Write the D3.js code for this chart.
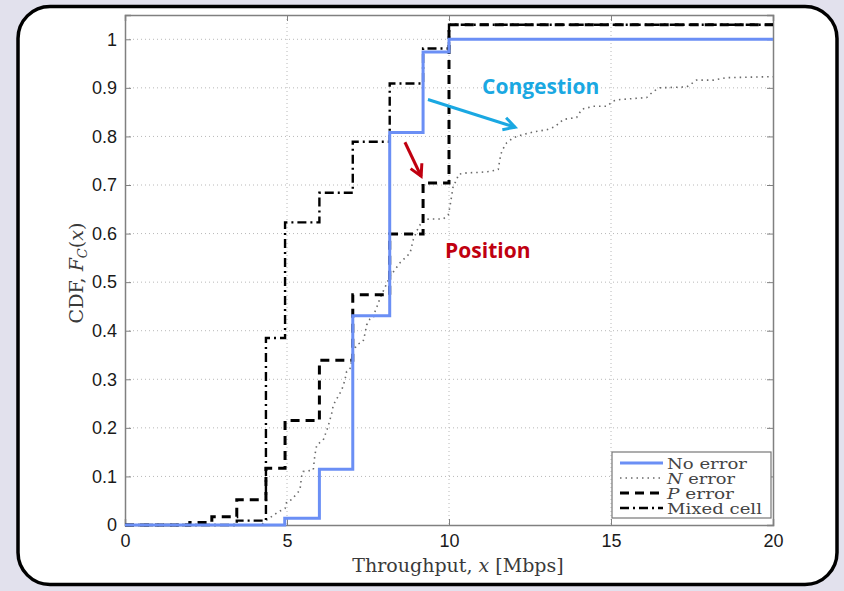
<!DOCTYPE html>
<html>
<head>
<meta charset="utf-8">
<script src="https://cdn.jsdelivr.net/npm/d3@7"></script>
<style>
  body { margin: 0; background: #e2e1ed; }
  svg { display: block; }
</style>
</head>
<body>
<svg class="chart"></svg>
<script>
// step CDFs: breakpoints (Mbps) and CDF value from that point on
const noErrX = [0, 4.93, 6.0, 7.03, 8.17, 9.2, 10.0, 20];
const noErrY = [0, 0.014, 0.115, 0.431, 0.808, 0.974, 1.0, 1.0];

const pErrX = [0, 2.0, 2.68, 3.45, 4.35, 4.94, 6.0, 7.03, 8.17, 9.2, 10.0, 20];
const pErrY = [0, 0.005, 0.017, 0.052, 0.117, 0.215, 0.339, 0.474, 0.599, 0.704, 1.03, 1.03];

const mixedX = [0, 3.45, 4.35, 4.94, 6.0, 7.03, 8.17, 9.2, 10.0, 20];
const mixedY = [0, 0.009, 0.385, 0.623, 0.684, 0.789, 0.909, 0.981, 1.03, 1.03];

// N error curve, read point by point
const nErrX = [0, 4.2, 4.37, 4.73, 4.94, 4.99, 5.14, 5.40, 5.45, 5.50, 5.81, 5.86, 5.92, 6.12, 6.27, 6.38, 6.43,
  6.58, 6.69, 6.79, 6.84, 6.94, 7.05, 7.15, 7.35, 7.41, 7.46, 7.56, 7.66, 7.72, 7.82, 7.87, 8.18, 8.49, 8.80,
  8.90, 9.05, 9.21, 9.41, 9.82, 9.98, 10.03, 10.08, 10.13, 10.24, 10.29, 10.55, 10.96, 11.27, 11.52, 11.57,
  11.63, 11.78, 11.98, 12.29, 12.60, 13.02, 13.27, 13.53, 13.94, 14.10, 14.45, 14.87, 15.07, 15.28, 16.10,
  16.31, 16.51, 17.34, 17.54, 17.64, 18.16, 18.57, 20];
const nErrY = [0, 0, 0.010, 0.027, 0.034, 0.048, 0.052, 0.072, 0.10, 0.11, 0.113, 0.144, 0.165, 0.175, 0.203, 0.230, 0.247,
  0.265, 0.278, 0.299, 0.316, 0.320, 0.357, 0.371, 0.378, 0.395, 0.412, 0.424, 0.426, 0.44, 0.457, 0.467, 0.512, 0.54, 0.56,
  0.588, 0.612, 0.629, 0.630, 0.630, 0.639, 0.656, 0.677, 0.698, 0.711, 0.722, 0.725, 0.726, 0.728, 0.732, 0.753,
  0.770, 0.787, 0.797, 0.804, 0.809, 0.814, 0.820, 0.835, 0.839, 0.856, 0.862, 0.862, 0.873, 0.876, 0.880,
  0.893, 0.900, 0.902, 0.911, 0.916, 0.916, 0.921, 0.923];

const xTicks = [0, 5, 10, 15, 20];
const yTicks = [0, 0.1, 0.2, 0.3, 0.4, 0.5, 0.6, 0.7, 0.8, 0.9, 1];
const legendNames = ["No error", "N error", "P error", "Mixed cell"];

const W = 844, H = 591;
const pLeft = 125, pRight = 773, pTop = 15, pBottom = 525;

const svg = d3.select(".chart").attr("width", W).attr("height", H);

// white rounded panel
svg.append("rect")
  .attr("x", 18).attr("y", 6.5).attr("width", 819).attr("height", 578)
  .attr("rx", 32).attr("fill", "#fff").attr("stroke", "#000").attr("stroke-width", 3.5);

const x = d3.scaleLinear().domain([0, 20]).range([pLeft, pRight]);
const y = d3.scaleLinear().domain([0, 1.05]).range([pBottom, pTop]);

// grid
const grid = svg.append("g").attr("stroke", "#b8b8b8").attr("stroke-width", 1).attr("stroke-dasharray", "1,3");
grid.selectAll(".gx").data(xTicks.slice(1, -1)).enter().append("line")
  .attr("x1", d => x(d)).attr("x2", d => x(d)).attr("y1", pTop).attr("y2", pBottom);
grid.selectAll(".gy").data(yTicks.slice(1)).enter().append("line")
  .attr("y1", d => y(d)).attr("y2", d => y(d)).attr("x1", pLeft).attr("x2", pRight);

// axes (MATLAB style, inward ticks on all sides)
const tickFont = "'Liberation Sans', Arial, sans-serif";
const gx = svg.append("g").attr("transform", "translate(0," + pBottom + ")")
  .call(d3.axisBottom(x).tickValues(xTicks).tickSize(-6).tickPadding(9).tickFormat(d3.format("d")));
const gy = svg.append("g").attr("transform", "translate(" + pLeft + ",0)")
  .call(d3.axisLeft(y).tickValues(yTicks).tickSize(-6).tickPadding(8).tickFormat(d => d === 0 || d === 1 ? d : d3.format(".1f")(d)));
svg.append("g").attr("transform", "translate(0," + pTop + ")")
  .call(d3.axisTop(x).tickValues(xTicks).tickSize(-6).tickFormat(""));
svg.append("g").attr("transform", "translate(" + pRight + ",0)")
  .call(d3.axisRight(y).tickValues(yTicks).tickSize(-6).tickFormat(""));
svg.selectAll(".domain").attr("stroke", "#808080").attr("stroke-width", 1.5);
svg.selectAll(".tick line").attr("stroke", "#808080");
svg.selectAll(".tick text").attr("font-family", tickFont).attr("font-size", 18).attr("fill", "#1a1a1a");

// series
const stepLine = d3.line().x(d => x(d[0])).y(d => y(d[1])).curve(d3.curveStepAfter);
const plainLine = d3.line().x(d => x(d[0])).y(d => y(d[1]));
const zip = (a, b) => a.map((v, i) => [v, b[i]]);

const series = [
  {name: legendNames[1], pts: zip(nErrX, nErrY), gen: plainLine, color: "#6a6a6a", width: 1.6, dash: "1.5,4", w: 68},
  {name: legendNames[2], pts: zip(pErrX, pErrY), gen: stepLine, color: "#000", width: 3, dash: "9,6", w: 67},
  {name: legendNames[3], pts: zip(mixedX, mixedY), gen: stepLine, color: "#000", width: 2.4, dash: "9,4,2,4", w: 95},
  {name: legendNames[0], pts: zip(noErrX, noErrY), gen: stepLine, color: "#6b8ff5", width: 3, dash: null, w: 80}
];

const plot = svg.append("g");
plot.selectAll(".series").data(series).enter().append("path")
  .attr("d", d => d.gen(d.pts))
  .attr("fill", "none")
  .attr("stroke", d => d.color)
  .attr("stroke-width", d => d.width)
  .attr("stroke-dasharray", d => d.dash);

// annotations
const congColor = "#1aa8e2", posColor = "#c00010";
const congFrom = [9.35, 0.876], congTo = [12.04, 0.819];
const posFrom = [8.64, 0.788], posTo = [9.14, 0.718];

function arrow(from, to, color) {
  const x1 = x(from[0]), y1 = y(from[1]), x2 = x(to[0]), y2 = y(to[1]);
  const a = Math.atan2(y2 - y1, x2 - x1), L = 13, s = 0.5;
  svg.append("line").attr("x1", x1).attr("y1", y1).attr("x2", x2).attr("y2", y2)
    .attr("stroke", color).attr("stroke-width", 3);
  svg.append("path")
    .attr("d", "M" + (x2 - L * Math.cos(a - s)) + "," + (y2 - L * Math.sin(a - s)) +
      "L" + x2 + "," + y2 + "L" + (x2 - L * Math.cos(a + s)) + "," + (y2 - L * Math.sin(a + s)))
    .attr("fill", "none").attr("stroke", color).attr("stroke-width", 3).attr("stroke-linejoin", "miter");
}
arrow(congFrom, congTo, congColor);
arrow(posFrom, posTo, posColor);

svg.append("text").attr("x", x(11.02)).attr("y", y(0.887))
  .attr("font-family", "'Open Sans', sans-serif").attr("font-weight", "bold").attr("font-size", 21)
  .attr("fill", congColor).text("Congestion");
svg.append("text").attr("x", x(9.88)).attr("y", y(0.55))
  .attr("font-family", "'Open Sans', sans-serif").attr("font-weight", "bold").attr("font-size", 21)
  .attr("fill", posColor).text("Position");

// axis labels
const serif = "'DejaVu Serif', 'Liberation Serif', serif";
const xl = svg.append("text").attr("x", (pLeft + pRight) / 2 + 9).attr("y", 572)
  .attr("text-anchor", "middle").attr("font-family", serif).attr("font-size", 19).attr("fill", "#3a3a3a");
xl.append("tspan").text("Throughput, ");
xl.append("tspan").attr("font-style", "italic").text("x");
xl.append("tspan").text(" [Mbps]");

const yl = svg.append("text").attr("transform", "translate(83," + 273 + ") rotate(-90)")
  .attr("text-anchor", "middle").attr("font-family", serif).attr("font-size", 19).attr("fill", "#3a3a3a");
yl.append("tspan").text("CDF, ");
yl.append("tspan").attr("font-style", "italic").text("F");
yl.append("tspan").attr("font-style", "italic").attr("font-size", 13).attr("dy", 4).text("C");
yl.append("tspan").attr("dy", -4).text("(");
yl.append("tspan").attr("font-style", "italic").text("x");
yl.append("tspan").text(")");

// legend
const lg = svg.append("g").attr("transform", "translate(612,452)");
lg.append("rect").attr("width", 159).attr("height", 66).attr("fill", "#fff").attr("stroke", "#777").attr("stroke-width", 1.2);
const order = [3, 0, 1, 2];
const rows = lg.selectAll(".row").data(order.map(i => series[i])).enter().append("g")
  .attr("transform", (d, i) => "translate(0," + (11 + i * 15) + ")");
rows.append("line").attr("x1", 8).attr("x2", 51)
  .attr("stroke", d => d.color).attr("stroke-width", d => d.width)
  .attr("stroke-dasharray", d => d.dash);
const lt = rows.append("text").attr("y", 5)
  .attr("font-family", serif).attr("font-size", 14).attr("fill", "#444");
lt.each(function(d) {
  const t = d3.select(this);
  if (d.name === "N error" || d.name === "P error") {
    t.append("tspan").attr("font-style", "italic").text(d.name[0]);
    t.append("tspan").text(d.name.slice(1));
  } else {
    t.text(d.name);
  }
  // stretch to the width the label takes in the reference
  const len = this.getComputedTextLength();
  t.attr("transform", "translate(55,0) scale(" + (d.w / len) + ",1.12)");
});
</script>
</body>
</html>
